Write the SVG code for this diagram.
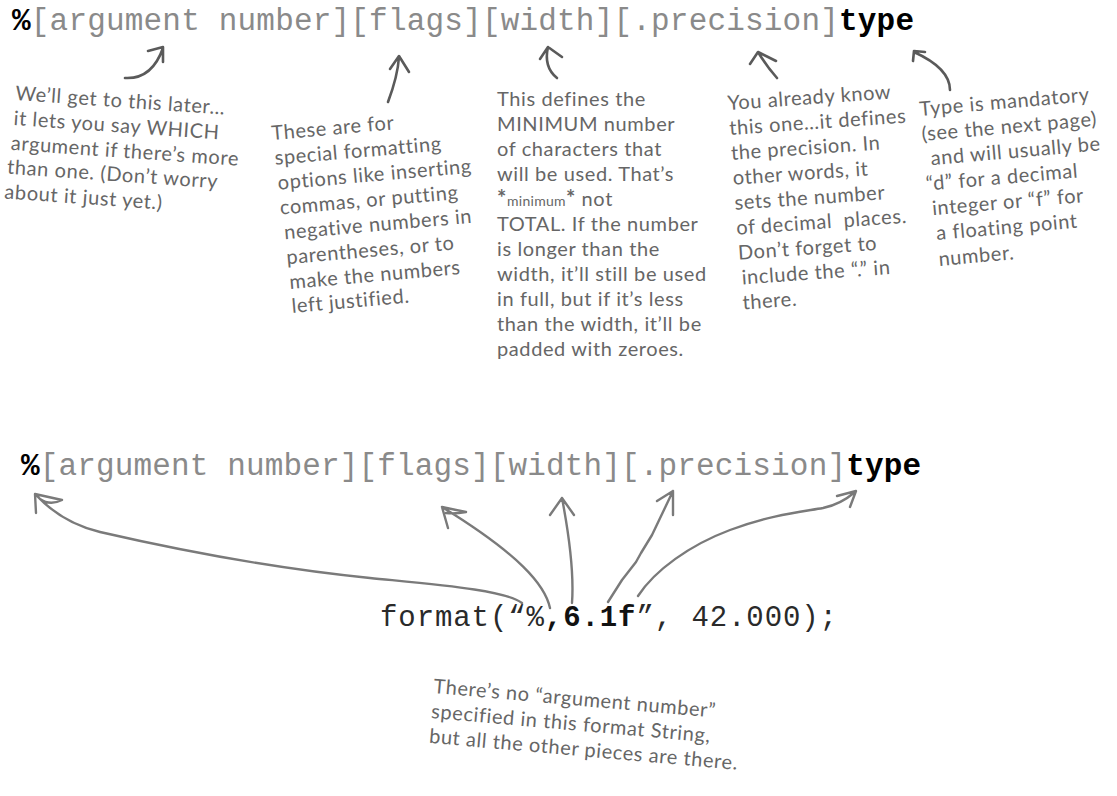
<svg xmlns="http://www.w3.org/2000/svg" width="1117" height="796" viewBox="0 0 1117 796">
<style>
.code{font-family:"Liberation Mono","Courier New",monospace;font-size:31px;fill:#8a8a8a}
.k{fill:#000;font-weight:bold}
.fmt{font-family:"Liberation Mono","Courier New",monospace;font-size:29px;fill:#2a2a2a}
.b{font-weight:bold;fill:#111}
.hand{font-family:Lato,"Liberation Sans",sans-serif;font-size:20px;letter-spacing:0.6px;fill:#666}
.small{font-size:14px;letter-spacing:0.3px}
.ast{font-weight:bold;font-size:22px}
.ar{fill:none;stroke:#5a5a5a;stroke-width:2.6;stroke-linecap:round;stroke-linejoin:round}
.ar2{fill:none;stroke:#7a7a7a;stroke-width:2.4;stroke-linecap:round;stroke-linejoin:round}
</style>
<rect width="1117" height="796" fill="#fff"/>

<g id="syntax-top">
<text class="code" x="12" y="30" textLength="902" lengthAdjust="spacing"><tspan class="k">%</tspan>[argument number][flags][width][.precision]<tspan class="k">type</tspan></text>
</g>

<g id="note-argument" class="hand" transform="translate(15,100) rotate(4)">
<text x="0" y="0">We’ll get to this later…</text>
<text x="0" y="25">it lets you say WHICH</text>
<text x="-1" y="50">argument if there’s more</text>
<text x="-3" y="74">than one. (Don’t worry</text>
<text x="-4" y="99">about it just yet.)</text>
</g>

<g id="note-flags" class="hand" transform="translate(272,140) rotate(-5)">
<text x="0" y="0">These are for</text>
<text x="1" y="25">special formatting</text>
<text x="2" y="50">options like inserting</text>
<text x="2" y="75">commas, or putting</text>
<text x="4" y="100">negative numbers in</text>
<text x="4" y="125">parentheses, or to</text>
<text x="5" y="150">make the numbers</text>
<text x="5" y="174">left justified.</text>
</g>

<g id="note-width" class="hand" transform="translate(497,106)">
<text x="0" y="0">This defines the</text>
<text x="0" y="25">MINIMUM number</text>
<text x="0" y="50">of characters that</text>
<text x="0" y="75">will be used. That’s</text>
<text x="0" y="100"><tspan class="ast">*</tspan><tspan class="small">minimum</tspan><tspan class="ast">*</tspan> not</text>
<text x="0" y="125">TOTAL. If the number</text>
<text x="0" y="150">is longer than the</text>
<text x="0" y="175">width, it’ll still be used</text>
<text x="0" y="200">in full, but if it’s less</text>
<text x="0" y="225">than the width, it’ll be</text>
<text x="0" y="250">padded with zeroes.</text>
</g>

<g id="note-precision" class="hand" transform="translate(728,110) rotate(-4)">
<text x="0" y="0">You already know</text>
<text x="0" y="25">this one…it defines</text>
<text x="0" y="50">the precision. In</text>
<text x="0" y="75">other words, it</text>
<text x="0" y="100">sets the number</text>
<text x="0" y="125">of decimal&#160; places.</text>
<text x="0" y="150">Don’t forget to</text>
<text x="2" y="175">include the “.” in</text>
<text x="1" y="200">there.</text>
</g>

<g id="note-type" class="hand" transform="translate(920,116) rotate(-5)">
<text x="0" y="0">Type is mandatory</text>
<text x="0" y="25">(see the next page)</text>
<text x="7" y="50">and will usually be</text>
<text x="0" y="75">“d” for a decimal</text>
<text x="4" y="100">integer or “f” for</text>
<text x="6" y="125">a floating point</text>
<text x="6" y="151">number.</text>
</g>

<g id="syntax-bottom">
<text class="code" x="21" y="475" textLength="900" lengthAdjust="spacing"><tspan class="k">%</tspan>[argument number][flags][width][.precision]<tspan class="k">type</tspan></text>
</g>

<g id="format-call">
<text class="fmt" x="380" y="626" textLength="457" lengthAdjust="spacing">format(“%<tspan class="b">,6.1f</tspan>”, 42.000);</text>
</g>

<g id="note-format" class="hand" transform="translate(433,693) rotate(5)">
<text x="0" y="0">There’s no “argument number”</text>
<text x="0" y="25">specified in this format String,</text>
<text x="0" y="50">but all the other pieces are there.</text>
</g>

<g id="connectors">
<path class="ar" d="M125,78 C143,79 156,68 163,48 M148,51 L163,47 L163,62"/>
<path class="ar" d="M388,102 C394,86 398,72 399,57 M390,69 L399,56 L409,72"/>
<path class="ar" d="M557,78 C547,70 545,60 548,47 M540,59 L548,47 L562,57"/>
<path class="ar" d="M777,78 C770,70 764,62 758,52 M750,64 L758,52 L776,61"/>
<path class="ar" d="M950,90 C950,74 936,62 914,52 M913,61 L914,51 L925,52"/>

<path class="ar2" d="M522,603 C505,590 440,585 370,578 C290,570 200,555 100,532 C75,526 55,515 37,496 M36,513 L35,494 L62,500 Q50,506 40,499"/>
<path class="ar2" d="M550,608 C545,585 520,555 442,507 M448,528 L442,507 L466,512 Q455,514 446,513"/>
<path class="ar2" d="M572,603 C574,575 570,540 562,498 M550,515 L562,498 L574,515"/>
<path class="ar2" d="M608,602 L622,580 L636,562 L641,553 L652,535 L673,491 M657,501 L673,491 L673,515"/>
<path class="ar2" d="M638,596 C655,570 690,545 730,530 C770,515 800,512 823,508 C838,505 848,498 855,492 M837,496 L856,491 L850,507"/>
</g>
</svg>
